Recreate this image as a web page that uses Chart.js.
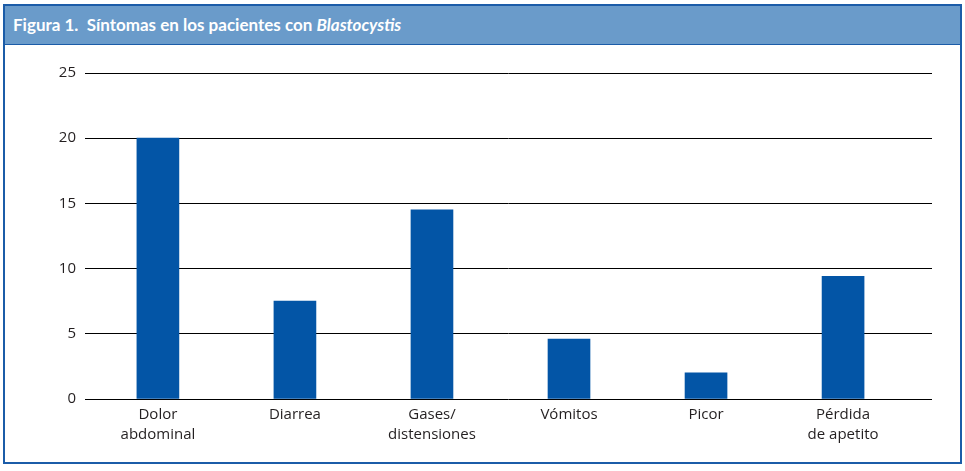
<!DOCTYPE html>
<html lang="es">
<head>
    <meta charset="UTF-8">
    <title>Figura 1</title>
    <script src="https://cdn.jsdelivr.net/npm/chart.js"></script>
    <style>
body {
    margin: 0;
    width: 965px;
    height: 471px;
    position: relative;
    background: #fff;
    overflow: hidden;
}
#frame {
    position: absolute;
    left: 3px;
    top: 4px;
    width: 955px;
    height: 456px;
    border: 2px solid #1b5ca8;
}
#header {
    position: absolute;
    left: 0;
    top: 0;
    right: 0;
    height: 38px;
    background: #6a9bca;
    border-bottom: 1px solid #1b5ca8;
    color: #fff;
    font-family: Lato, sans-serif;
    font-weight: bold;
    font-size: 17px;
    line-height: 38px;
    padding-left: 8px;
    white-space: pre;
}
#chart {
    position: absolute;
    left: 0;
    top: 0;
}
    </style>
</head>
<body>
    <div id="frame">
        <div id="header">Figura 1.  Síntomas en los pacientes con <i>Blastocystis</i></div>
    </div>
    <canvas id="chart" width="965" height="471"></canvas>
    <script>
// data
const categories = ['Dolor\nabdominal', 'Diarrea', 'Gases/\ndistensiones', 'Vómitos', 'Picor', 'Pérdida\nde apetito'];
const patients = [20, 7.5, 14.5, 4.6, 2, 9.4];
const yTicks = [0, 5, 10, 15, 20, 25];

const barBlue = '#0355a6';

new Chart(document.getElementById('chart'), {
    type: 'bar',
    data: {
        datasets: [{
            data: patients.map((v, i) => ({x: i, y: v})),
            backgroundColor: barBlue,
            borderWidth: 0,
            barThickness: 42
        }]
    },
    options: {
        responsive: false,
        animation: false,
        events: [],
        layout: { padding: { top: 73, right: 33, bottom: 0, left: 0 } },
        plugins: { legend: { display: false }, tooltip: { enabled: false } },
        scales: {
            x: {
                type: 'linear',
                offset: false,
                min: -0.532,
                max: 5.649,
                grid: { display: false, drawTicks: false },
                border: { display: false },
                afterBuildTicks: s => { s.ticks = categories.map((c, i) => ({value: i})); },
                afterFit: s => { s.height = 72; },
                ticks: {
                    autoSkip: false,
                    maxRotation: 0,
                    padding: 6,
                    color: '#231f20',
                    font: { family: 'Open Sans', size: 15, lineHeight: 1.3 },
                    callback: v => categories[v] !== undefined ? categories[v].split('\n') : ''
                }
            },
            y: {
                min: 0,
                max: 25,
                grid: { color: '#000', lineWidth: 1, drawTicks: false },
                border: { display: false },
                afterBuildTicks: s => { s.ticks = yTicks.map(v => ({value: v})); },
                afterFit: s => { s.width = 85; },
                ticks: {
                    padding: 9,
                    color: '#231f20',
                    font: { family: 'Open Sans', size: 15 }
                }
            }
        }
    }
});
    </script>
</body>
</html>
